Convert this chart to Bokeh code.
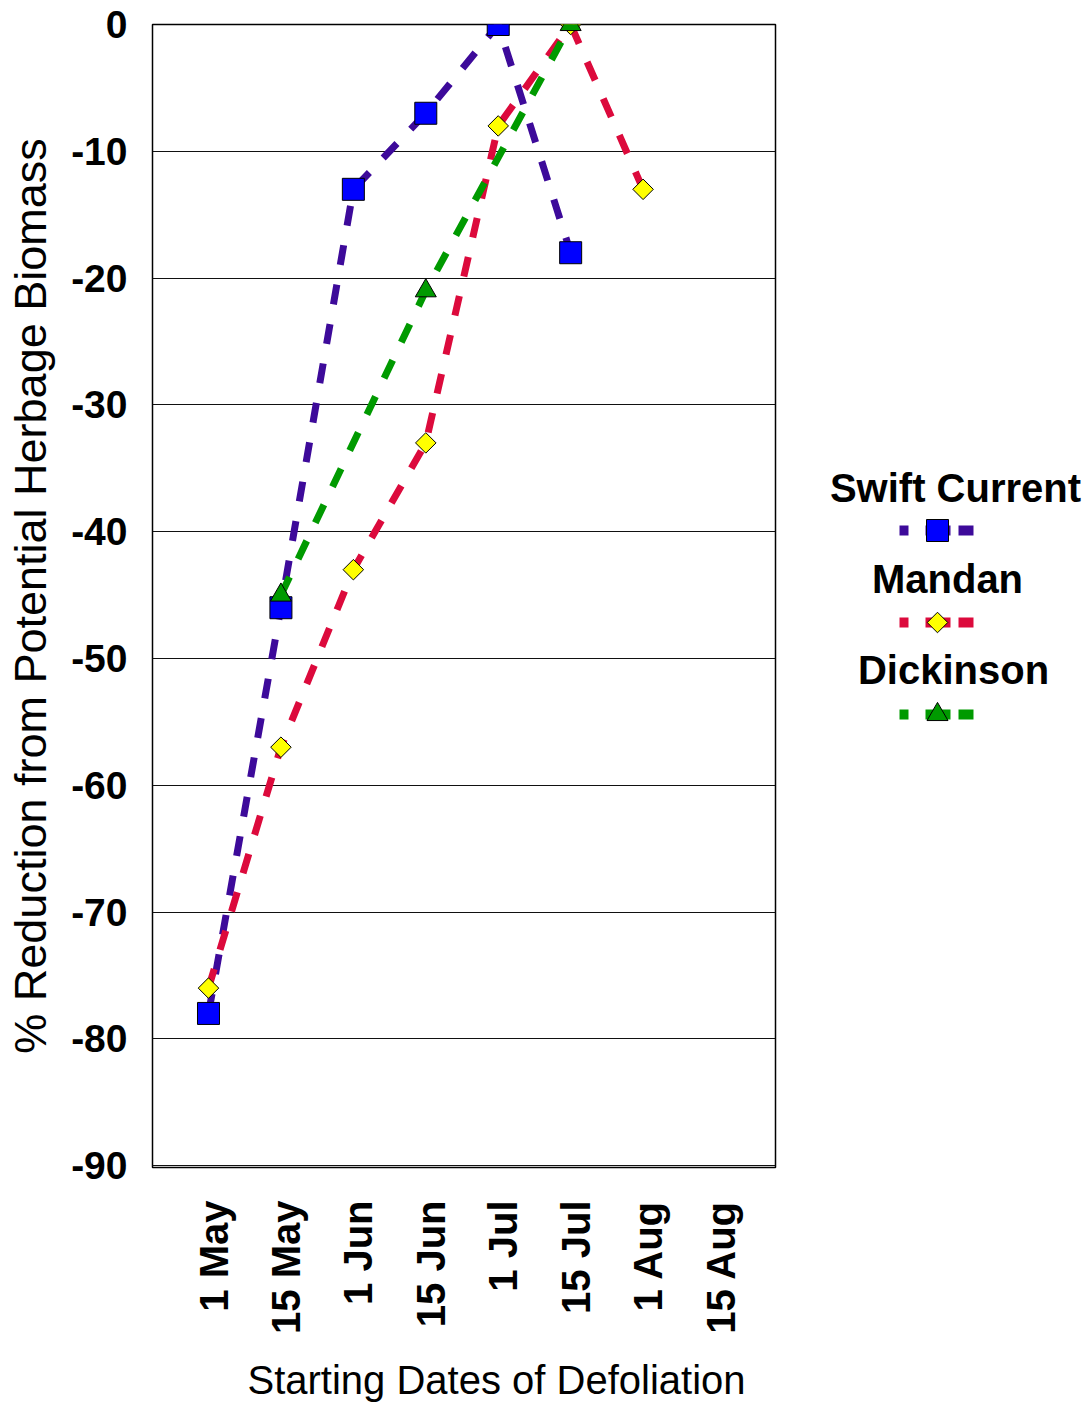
import math
from bokeh.plotting import figure
from bokeh.layouts import row
from bokeh.models import Range1d, FixedTicker, ColumnDataSource, Title, CustomJSTickFormatter
from bokeh.core.properties import value
from bokeh.embed import file_html
from bokeh.resources import INLINE

# ---- data ----
dates = ["1 May", "15 May", "1 Jun", "15 Jun", "1 Jul", "15 Jul", "1 Aug", "15 Aug"]
y_ticks = [0, -10, -20, -30, -40, -50, -60, -70, -80, -90]

swift_dates = ["1 May", "15 May", "1 Jun", "15 Jun", "1 Jul", "15 Jul"]
swift_vals = [-78, -46, -13, -7, 0, -18]

mandan_dates = ["1 May", "15 May", "1 Jun", "15 Jun", "1 Jul", "15 Jul", "1 Aug"]
mandan_vals = [-76, -57, -43, -33, -8, 0, -13]

dick_dates = ["15 May", "15 Jun", "15 Jul"]
dick_vals = [-45, -21, 0]

series_names = ["Swift Current", "Mandan", "Dickinson"]

# ---- styles ----
FONT = "Liberation Sans"
C_SWIFT = "#3d0a9a"
C_MANDAN = "#dc0a3c"
C_DICK = "#009a00"
DASH = "20 20"
LW = 7
LABEL_SHIFT = 0.07  # small rightward nudge of the rotated date labels

idx = {d: i for i, d in enumerate(dates)}

p = figure(frame_width=623, frame_height=1143,
           x_range=Range1d(-0.773, 7.828), y_range=Range1d(-90.15, 0),
           output_backend="svg", toolbar_location=None,
           min_border_left=152, min_border_top=24, min_border_bottom=231,
           min_border_right=23, background_fill_color="white")

p.outline_line_color = "black"
p.outline_line_width = 1.5
p.xgrid.visible = False
p.ygrid.ticker = FixedTicker(ticks=y_ticks)
p.ygrid.grid_line_color = "#111111"
p.ygrid.grid_line_width = 1.2

xa = p.xaxis[0]
xa.ticker = FixedTicker(ticks=[i + LABEL_SHIFT for i in range(len(dates))])
xa.formatter = CustomJSTickFormatter(args=dict(labels=dates),
                                     code="return labels[Math.round(tick)];")
xa.major_label_orientation = math.pi / 2
xa.major_label_text_font = FONT
xa.major_label_text_font_style = "bold"
xa.major_label_text_font_size = "40px"
xa.major_label_standoff = 27

xtitle = Title(text="Starting Dates of Defoliation", align="left", offset=95,
               text_font=FONT, text_font_style="normal", text_font_size="40px",
               text_color="black", standoff=39)
p.add_layout(xtitle, "below")

ya = p.yaxis[0]
ya.ticker = FixedTicker(ticks=y_ticks)
ya.major_label_overrides = {t: str(t) for t in y_ticks}
ya.major_label_text_font = FONT
ya.major_label_text_font_style = "bold"
ya.major_label_text_font_size = "39px"
ya.major_label_standoff = 19
ya.axis_label = "% Reduction from Potential Herbage Biomass"
ya.axis_label_text_font = FONT
ya.axis_label_text_font_style = "normal"
ya.axis_label_text_font_size = "45px"
ya.axis_label_standoff = 12

for ax in (xa, ya):
    ax.axis_line_color = None
    ax.major_tick_line_color = None
    ax.minor_tick_line_color = None
    ax.major_label_text_color = "black"
    ax.axis_label_text_color = "black"

src_s = ColumnDataSource(dict(x=[idx[d] for d in swift_dates], y=swift_vals))
src_m = ColumnDataSource(dict(x=[idx[d] for d in mandan_dates], y=mandan_vals))
src_d = ColumnDataSource(dict(x=[idx[d] for d in dick_dates], y=dick_vals))

for src, col in ((src_s, C_SWIFT), (src_m, C_MANDAN), (src_d, C_DICK)):
    p.line("x", "y", source=src, line_color=col, line_width=LW, line_dash=DASH)

p.scatter("x", "y", source=src_s, marker="square", size=22,
          fill_color="#0000ff", line_color="black", line_width=1)
p.scatter("x", "y", source=src_m, marker="square", angle=math.pi / 4, size=14.5,
          fill_color="#ffff00", line_color="black", line_width=1)
p.scatter("x", "y", source=src_d, marker="triangle", size=21,
          fill_color="#009a00", line_color="black", line_width=1)

# ---- legend panel (page-pixel coordinates; frame aligned with main frame) ----
leg = figure(frame_width=292, frame_height=1143,
             x_range=Range1d(798, 1090), y_range=Range1d(1167, 24),
             x_axis_type=None, y_axis_type=None,
             output_backend="svg", toolbar_location=None,
             min_border_left=0, min_border_right=0, min_border_top=24,
             min_border_bottom=231)
leg.outline_line_color = None

title_x = [955, 947, 953]
title_y = [487, 578, 669]
sample_y = [530, 622, 714]
leg.text(x=title_x, y=title_y, text=series_names,
         text_font=value(FONT), text_font_style="bold", text_font_size="40px",
         text_align="center", text_baseline="middle", text_color="black")

markers = [("square", 22, 0, "#0000ff"), ("square", 14.5, math.pi / 4, "#ffff00"),
           ("triangle", 21, 0, "#009a00")]
for col, sy, (mk, sz, ang, fc) in zip((C_SWIFT, C_MANDAN, C_DICK), sample_y, markers):
    leg.line(x=[899, 973], y=[sy, sy], line_color=col, line_width=10,
             line_dash="9 17 25 8 15 50")
    leg.scatter(x=[937], y=[sy], marker=mk, size=sz, angle=ang,
                fill_color=fc, line_color="black", line_width=1)

layout = row(p, leg)
open("out.html", "w").write(file_html(layout, INLINE))
